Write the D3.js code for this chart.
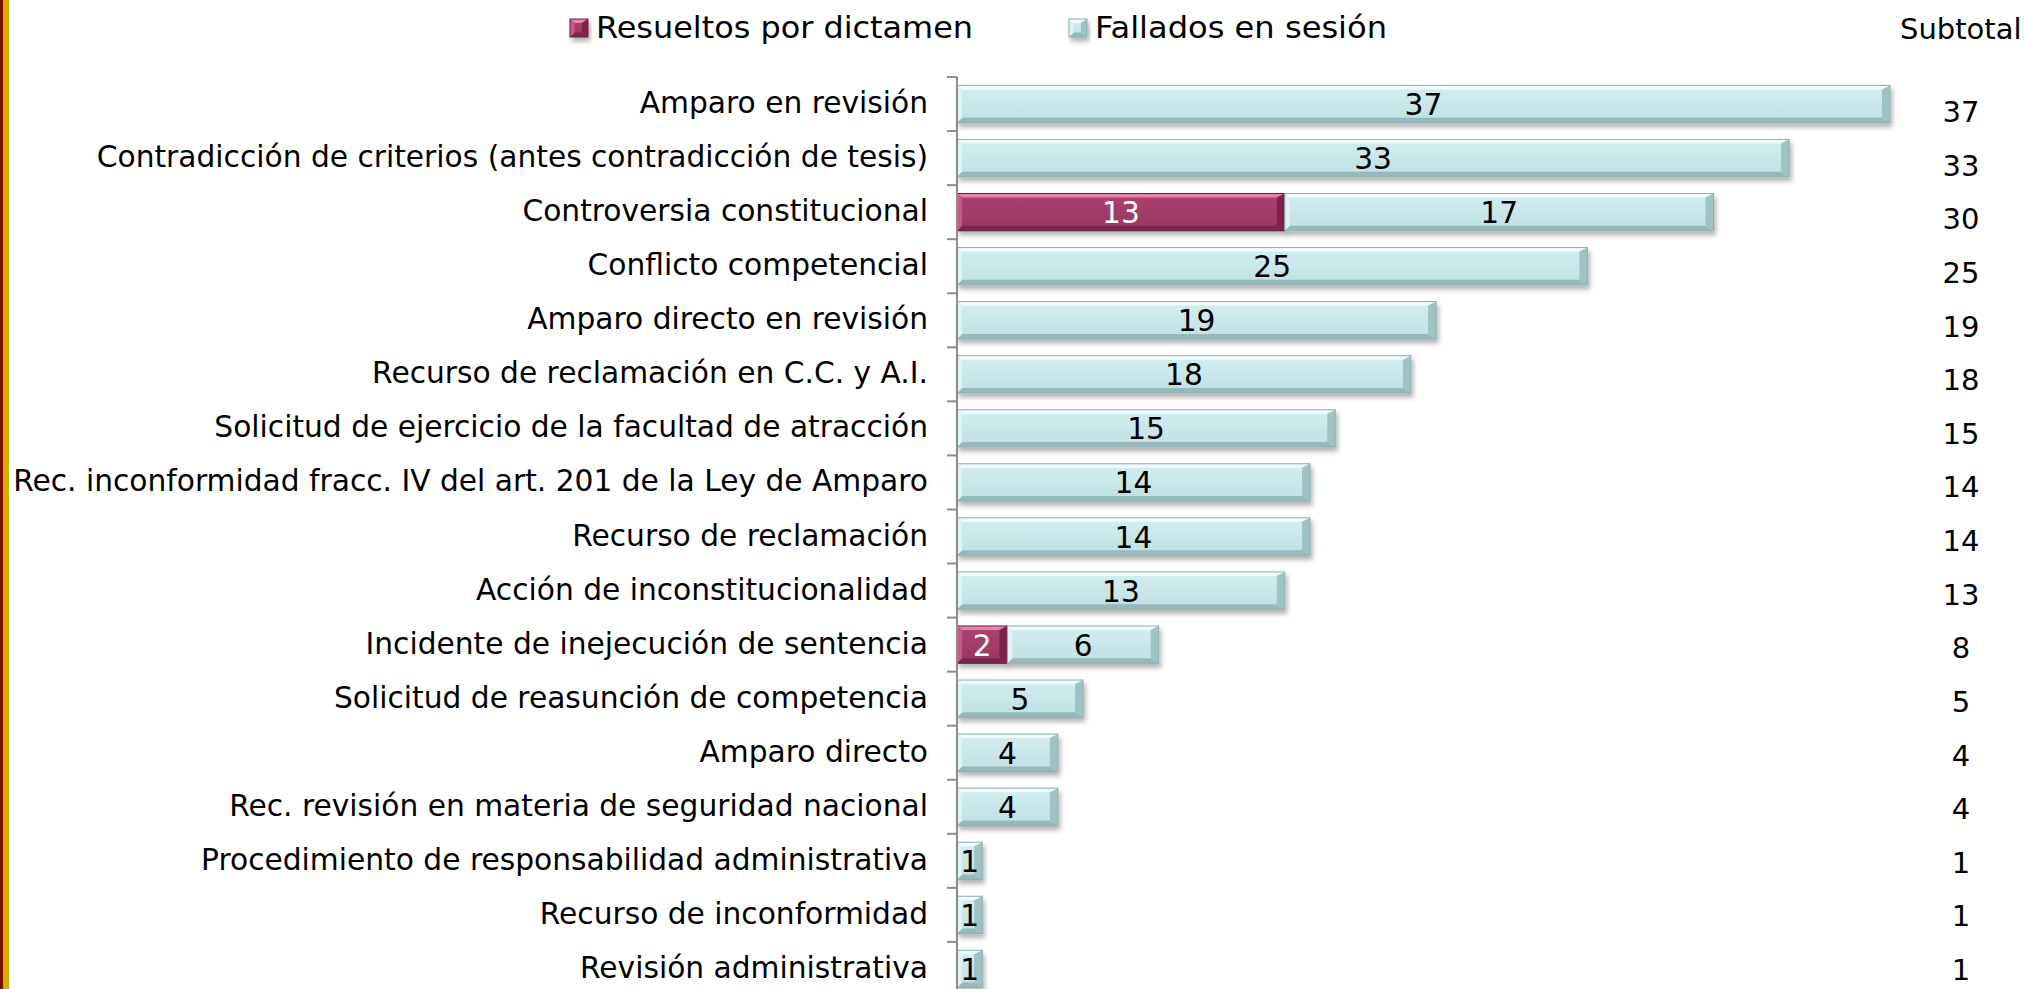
<!DOCTYPE html>
<html>
<head>
<meta charset="utf-8">
<script src="https://cdn.jsdelivr.net/npm/d3@7"></script>
<style>
  body { margin: 0; background: #fff; }
  svg { display: block; }
  text { font-family: "DejaVu Sans", Verdana, sans-serif; }
</style>
</head>
<body>
<div id="chart"></div>
<script>
// Data.
var categories = [
    "Amparo en revisión",
    "Contradicción de criterios (antes contradicción de tesis)",
    "Controversia constitucional",
    "Conflicto competencial",
    "Amparo directo en revisión",
    "Recurso de reclamación en C.C. y A.I.",
    "Solicitud de ejercicio de la facultad de atracción",
    "Rec. inconformidad fracc. IV del art. 201 de la Ley de Amparo",
    "Recurso de reclamación",
    "Acción de inconstitucionalidad",
    "Incidente de inejecución de sentencia",
    "Solicitud de reasunción de competencia",
    "Amparo directo",
    "Rec. revisión en materia de seguridad nacional",
    "Procedimiento de responsabilidad administrativa",
    "Recurso de inconformidad",
    "Revisión administrativa"
];
var resueltos = [0, 0, 13, 0, 0, 0, 0, 0, 0, 0, 2, 0, 0, 0, 0, 0, 0];
var fallados  = [37, 33, 17, 25, 19, 18, 15, 14, 14, 13, 6, 5, 4, 4, 1, 1, 1];
var seriesNames = ["Resueltos por dictamen", "Fallados en sesión"];

var width = 2024, height = 989;

var rows = categories.map(function(c, i) {
    return {cat: c, r: resueltos[i], f: fallados[i], total: resueltos[i] + fallados[i]};
});

// Colours for the bevelled bars.
var pal = {
    r: {face0: "#ab4170", face1: "#9b3662", top: "#e884ab", left: "#c55a89", right: "#7c2449", bottom: "#7a274b", stroke: "#6a1f3f", text: "#fff"},
    f: {face0: "#d4eef0", face1: "#bfe0e3", top: "#f1fbfc", left: "#e0f3f4", right: "#9fc2c5", bottom: "#97b9bc", stroke: "#8eaeb1", text: "#000"}
};

var svg = d3.select("#chart").append("svg")
    .attr("width", width)
    .attr("height", height);

var defs = svg.append("defs");
var shadow = defs.append("filter").attr("id", "shadow")
    .attr("x", "-10%").attr("y", "-30%").attr("width", "130%").attr("height", "180%");
shadow.append("feDropShadow")
    .attr("dx", 2).attr("dy", 4).attr("stdDeviation", 2.5)
    .attr("flood-color", "#000").attr("flood-opacity", 0.3);

["r", "f"].forEach(function(k) {
    var g = defs.append("linearGradient").attr("id", "grad-" + k)
        .attr("x1", 0).attr("y1", 0).attr("x2", 0).attr("y2", 1);
    g.append("stop").attr("offset", "0%").attr("stop-color", pal[k].face0);
    g.append("stop").attr("offset", "100%").attr("stop-color", pal[k].face1);
});

// Left border stripes.
svg.append("rect").attr("x", 0).attr("y", 0).attr("width", 3).attr("height", height).attr("fill", "#7a0d0d");
svg.append("rect").attr("x", 3).attr("y", 0).attr("width", 6).attr("height", height).attr("fill", "#d9ab00");

// Scales.
var x = d3.scaleLinear().domain([0, 37]).range([957, 1890]);
var y = d3.scaleBand().domain(categories).range([77, 996])
    .paddingInner(0.31).paddingOuter(0.155);
// Subtotal column sits on a slightly tighter spacing than the bars.
var ySub = d3.scalePoint().domain(categories).range([112, 970]);

// Bevelled bar drawn as a face plus four edge trapezoids.
function bevel(g, x0, x1, y0, h, p) {
    var w = x1 - x0, y1 = y0 + h;
    var bt = Math.min(4, h / 4), bb = Math.min(5, h / 4);
    var bl = Math.min(5, w / 4), br = Math.min(8, w / 3);
    var b = g.append("g").attr("filter", "url(#shadow)");
    b.append("rect").attr("x", x0).attr("y", y0).attr("width", w).attr("height", h)
        .attr("fill", "url(#grad-" + p + ")");
    var c = pal[p];
    var poly = function(pts, fill) {
        b.append("polygon").attr("points", pts.map(function(d) { return d.join(","); }).join(" "))
            .attr("fill", fill);
    };
    poly([[x0, y0], [x1, y0], [x1 - br, y0 + bt], [x0 + bl, y0 + bt]], c.top);
    poly([[x0, y1], [x1, y1], [x1 - br, y1 - bb], [x0 + bl, y1 - bb]], c.bottom);
    poly([[x0, y0], [x0 + bl, y0 + bt], [x0 + bl, y1 - bb], [x0, y1]], c.left);
    poly([[x1, y0], [x1 - br, y0 + bt], [x1 - br, y1 - bb], [x1, y1]], c.right);
    b.append("rect").attr("x", x0).attr("y", y0).attr("width", w).attr("height", h)
        .attr("fill", "none").attr("stroke", c.stroke).attr("stroke-width", 1);
}

// Bars.
var bars = svg.append("g");
rows.forEach(function(d) {
    var yb = y(d.cat), h = y.bandwidth();
    if (d.r > 0) {
        bevel(bars, x(0), x(d.r), yb, h, "r");
    }
    bevel(bars, x(d.r), x(d.r + d.f), yb, h, "f");
});

// Value labels inside segments.
var labels = svg.append("g").style("font-size", "29.7px").attr("text-anchor", "middle");
rows.forEach(function(d) {
    var cy = y(d.cat) + y.bandwidth() / 2 + 11;
    if (d.r > 0) {
        labels.append("text").attr("x", (x(0) + x(d.r)) / 2).attr("y", cy)
            .attr("fill", pal.r.text).text(d.r);
    }
    labels.append("text").attr("x", (x(d.r) + x(d.r + d.f)) / 2).attr("y", cy)
        .attr("fill", pal.f.text).text(d.f);
});

// Category axis: line with ticks on band boundaries.
var axis = svg.append("g").attr("stroke", "#8c8c8c").attr("stroke-width", 2);
axis.append("line").attr("x1", 957).attr("x2", 957).attr("y1", 77).attr("y2", 996);
axis.selectAll(".tick").data(d3.range(categories.length + 1)).enter().append("line")
    .attr("x1", 947).attr("x2", 957)
    .attr("y1", function(i) { return 77 + i * y.step(); })
    .attr("y2", function(i) { return 77 + i * y.step(); });

svg.append("g").style("font-size", "29.7px").attr("text-anchor", "end")
    .selectAll("text").data(rows).enter().append("text")
    .attr("x", 928)
    .attr("y", function(d) { return y(d.cat) + y.bandwidth() / 2 + 9; })
    .text(function(d) { return d.cat; });

// Subtotal column.
svg.append("text").attr("x", 1900).attr("y", 39).style("font-size", "29px").text("Subtotal");
svg.append("g").style("font-size", "29px").attr("text-anchor", "middle")
    .selectAll("text").data(rows).enter().append("text")
    .attr("x", 1961)
    .attr("y", function(d) { return ySub(d.cat) + 10; })
    .text(function(d) { return d.total; });

// Legend.
var legendX = [570, 1069];
var legend = svg.append("g");
seriesNames.forEach(function(name, i) {
    bevel(legend, legendX[i], legendX[i] + 18, 19, 18, i === 0 ? "r" : "f");
    legend.append("text")
        .attr("x", legendX[i] + 26).attr("y", 38)
        .style("font-size", "30px")
        .attr("textLength", i === 0 ? 377 : 292)
        .attr("lengthAdjust", "spacingAndGlyphs")
        .text(name);
});
</script>
</body>
</html>
